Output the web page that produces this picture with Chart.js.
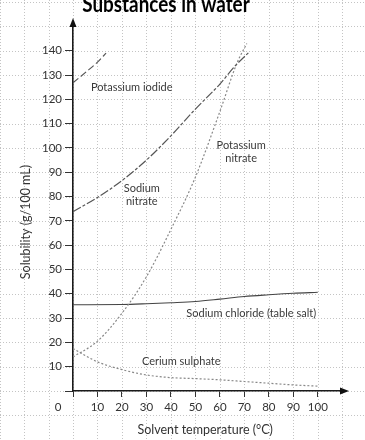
<!DOCTYPE html>
<html>
<head>
<meta charset="utf-8">
<script src="https://cdn.jsdelivr.net/npm/chart.js@4/dist/chart.umd.min.js"></script>
<style>
body{margin:0;background:#fff;}
#wrap{width:365px;height:440px;position:relative;}
</style>
</head>
<body>
<div id="wrap"><canvas id="chart"></canvas></div>
<script>
var xTicks = [0, 10, 20, 30, 40, 50, 60, 70, 80, 90, 100];
var yTicks = [0, 10, 20, 30, 40, 50, 60, 70, 80, 90, 100, 110, 120, 130, 140];

// [temperature, solubility]
var potassiumIodide = [[0, 126.8], [5, 131], [10, 135.3], [13.5, 139]];
var sodiumNitrate = [[0, 73.8], [10, 79.6], [20, 86.6], [30, 95], [40, 105], [50, 116], [60, 126.3], [66, 133.5], [72, 139.5]];
var potassiumNitrate = [[0, 14], [10, 20.5], [20, 32], [30, 47], [40, 66.5], [50, 88], [60, 115], [67, 135], [71, 143]];
var sodiumChloride = [[0, 35.5], [20, 35.6], [30, 35.9], [40, 36.3], [50, 36.8], [60, 37.8], [70, 38.9], [80, 39.6], [90, 40.2], [100, 40.6]];
var ceriumSulphate = [[0, 17.5], [10, 12], [20, 8.8], [30, 6.6], [40, 5.5], [50, 5.1], [60, 4.6], [70, 3.9], [80, 3.2], [90, 2.5], [100, 2]];

var FONT = 'Lato';

function pts(arr){
  return arr.map(function(p){ return {x: p[0], y: p[1]}; });
}

function curve(label, arr, colour, dash, width){
  return {
    label: label,
    data: pts(arr),
    borderColor: colour,
    borderWidth: width,
    borderDash: dash,
    pointRadius: 0,
    fill: false,
    tension: 0.4,
    cubicInterpolationMode: 'monotone'
  };
}

// graph paper behind everything, arrows + text on top
var paper = {
  id: 'paper',
  beforeDraw: function(chart){
    var ctx = chart.ctx, x = chart.scales.x, y = chart.scales.y;
    ctx.save();
    ctx.strokeStyle = '#c4c4c4';
    ctx.lineWidth = 1;
    ctx.setLineDash([1, 2]);
    for (let v = -30; v <= 130; v += 10){
      let px = Math.round(x.getPixelForValue(v)) + 0.5;
      ctx.beginPath(); ctx.moveTo(px, 0); ctx.lineTo(px, chart.height); ctx.stroke();
    }
    for (let v = -20; v <= 170; v += 10){
      let py = Math.round(y.getPixelForValue(v)) + 0.5;
      ctx.beginPath(); ctx.moveTo(0, py); ctx.lineTo(chart.width, py); ctx.stroke();
    }
    ctx.restore();
  },
  afterDraw: function(chart){
    var ctx = chart.ctx, x = chart.scales.x, y = chart.scales.y, a = chart.chartArea;
    ctx.save();
    ctx.fillStyle = '#111';
    // x arrow
    ctx.beginPath();
    ctx.moveTo(a.right + 5, a.bottom);
    ctx.lineTo(a.right - 4, a.bottom - 3.5);
    ctx.lineTo(a.right - 4, a.bottom + 3.5);
    ctx.closePath(); ctx.fill();
    // y arrow
    ctx.beginPath();
    ctx.moveTo(a.left, a.top - 6);
    ctx.lineTo(a.left - 3.5, a.top + 3);
    ctx.lineTo(a.left + 3.5, a.top + 3);
    ctx.closePath(); ctx.fill();

    // title (top is cut off in the original)
    ctx.fillStyle = '#000';
    ctx.font = 'bold 23px ' + FONT;
    ctx.textAlign = 'center';
    ctx.textBaseline = 'alphabetic';
    ctx.save();
    ctx.translate(166, 12);
    ctx.scale(0.82, 1);
    ctx.fillText('Substances in water', 0, 0);
    ctx.restore();

    // origin label
    ctx.fillStyle = '#333';
    ctx.font = '11.5px ' + FONT;
    ctx.textBaseline = 'middle';
    ctx.fillText('0', x.getPixelForValue(0) - 15, 407);

    // axis titles
    ctx.font = '12.5px ' + FONT;
    ctx.fillText('Solvent temperature (°C)', x.getPixelForValue(54), 430);
    ctx.save();
    ctx.translate(26, y.getPixelForValue(69.5));
    ctx.rotate(-Math.PI / 2);
    ctx.fillText('Solubility (g/100 mL)', 0, 0);
    ctx.restore();

    // curve labels, placed in data units
    ctx.fillStyle = '#3a3a3a';
    ctx.font = '11px ' + FONT;
    var labels = [
      ['Potassium iodide', 24, 124.7],
      ['Sodium', 28.1, 83.4],
      ['nitrate', 28.1, 77.9],
      ['Potassium', 68.7, 101.2],
      ['nitrate', 68.7, 95.8],
      ['Sodium chloride (table salt)', 72.8, 32],
      ['Cerium sulphate', 44.2, 12.1]
    ];
    labels.forEach(function(l){
      ctx.fillText(l[0], x.getPixelForValue(l[1]), y.getPixelForValue(l[2]));
    });
    ctx.restore();
  }
};

var chart = new Chart(document.getElementById('chart'), {
  type: 'line',
  data: {
    datasets: [
      curve('Potassium iodide', potassiumIodide, '#555', [7, 3], 1.2),
      curve('Sodium nitrate', sodiumNitrate, '#555', [9, 2, 3, 2], 1.2),
      curve('Potassium nitrate', potassiumNitrate, '#888', [2, 2], 1.2),
      curve('Sodium chloride', sodiumChloride, '#444', [], 1.1),
      curve('Cerium sulphate', ceriumSulphate, '#888', [2, 2], 1.2)
    ]
  },
  options: {
    responsive: true,
    maintainAspectRatio: false,
    animation: false,
    layout: {padding: {top: 24, right: 21, left: 0, bottom: 0}},
    plugins: {legend: {display: false}, tooltip: {enabled: false}, title: {display: false}},
    scales: {
      x: {
        type: 'linear',
        min: 0,
        max: 110.7,
        afterBuildTicks: function(s){ s.ticks = xTicks.map(function(v){ return {value: v}; }); },
        afterFit: function(s){ s.height = 49; },
        border: {color: '#1a1a1a', width: 1.6},
        grid: {drawOnChartArea: false, tickLength: 6, tickColor: '#333', tickWidth: 1},
        ticks: {
          padding: 3,
          color: '#333',
          font: {family: FONT, size: 11.5},
          maxRotation: 0,
          callback: function(v){ return v === 0 ? '' : v; }
        }
      },
      y: {
        type: 'linear',
        min: 0,
        max: 151,
        afterBuildTicks: function(s){ s.ticks = yTicks.map(function(v){ return {value: v}; }); },
        afterFit: function(s){ s.width = 73; },
        border: {color: '#1a1a1a', width: 1.6},
        grid: {drawOnChartArea: false, tickLength: 8, tickColor: '#333', tickWidth: 1},
        ticks: {
          padding: 3,
          color: '#333',
          font: {family: FONT, size: 11.5},
          callback: function(v){ return v === 0 ? '' : v; }
        }
      }
    }
  },
  plugins: [paper]
});
</script>
</body>
</html>
